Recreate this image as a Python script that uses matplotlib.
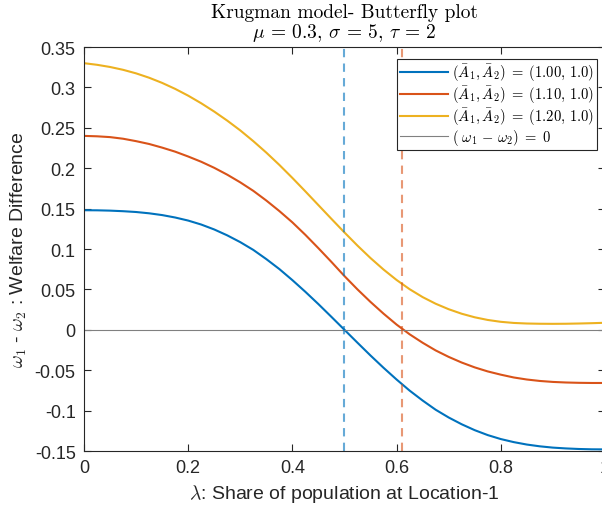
import matplotlib
matplotlib.use("Agg")
import matplotlib.pyplot as plt

# population share at location 1
lam = [0.0, 0.025, 0.05, 0.075, 0.1, 0.125, 0.15, 0.175, 0.2, 0.225,
       0.25, 0.275, 0.3, 0.325, 0.35, 0.375, 0.4, 0.425, 0.45, 0.475,
       0.5, 0.525, 0.55, 0.575, 0.6, 0.625, 0.65, 0.675, 0.7, 0.725,
       0.75, 0.775, 0.8, 0.825, 0.85, 0.875, 0.9, 0.925, 0.95, 0.975, 1.0]

# welfare difference w1 - w2 for each productivity pair
dw_100 = [0.1480, 0.1479, 0.1475, 0.1468, 0.1458, 0.1442, 0.1420, 0.1390, 0.1352, 0.1303,
          0.1242, 0.1169, 0.1085, 0.0989, 0.0875, 0.0752, 0.0615, 0.0470, 0.0318, 0.0160,
          0.0,
          -0.0160, -0.0318, -0.0470, -0.0615, -0.0752, -0.0875, -0.0989, -0.1085, -0.1169,
          -0.1242, -0.1303, -0.1352, -0.1390, -0.1420, -0.1442, -0.1458, -0.1468, -0.1475,
          -0.1479, -0.1480]
dw_110 = [0.2400, 0.2395, 0.2385, 0.2365, 0.2335, 0.2300, 0.2255, 0.2205, 0.2145, 0.2080,
          0.2005, 0.1920, 0.1825, 0.1720, 0.1600, 0.1470, 0.1330, 0.1175, 0.1010, 0.0840,
          0.0665, 0.0500, 0.0345, 0.0200, 0.0065, -0.0055, -0.0160, -0.0255, -0.0335, -0.0405,
          -0.0465, -0.0515, -0.0555, -0.0590, -0.0615, -0.0633, -0.0645, -0.0652, -0.0656,
          -0.0658, -0.0658]
dw_120 = [0.3300, 0.3280, 0.3253, 0.3218, 0.3174, 0.3120, 0.3056, 0.2982, 0.2898, 0.2804,
          0.2701, 0.2589, 0.2468, 0.2335, 0.2193, 0.2041, 0.1880, 0.1713, 0.1543, 0.1373,
          0.1205, 0.1042, 0.0888, 0.0746, 0.0617, 0.0503, 0.0405, 0.0323, 0.0255, 0.0199,
          0.0155, 0.0122, 0.0099, 0.0085, 0.0078, 0.0075, 0.0074, 0.0075, 0.0078, 0.0082,
          0.0087]

series_labels = [r"$(\bar{A}_1, \bar{A}_2)\;=\;(1.00,\, 1.0)$",
                 r"$(\bar{A}_1, \bar{A}_2)\;=\;(1.10,\, 1.0)$",
                 r"$(\bar{A}_1, \bar{A}_2)\;=\;(1.20,\, 1.0)$"]
zero_label = r"$(\ \omega_1\,-\,\omega_2)\;=\;0$"

# equilibrium shares where the difference crosses zero
lam_eq_100 = 0.5
lam_eq_110 = 0.61

xticks = [0, 0.2, 0.4, 0.6, 0.8, 1.0]
xtick_labels = ["0", "0.2", "0.4", "0.6", "0.8", "1"]
yticks = [-0.15, -0.1, -0.05, 0, 0.05, 0.1, 0.15, 0.2, 0.25, 0.3, 0.35]
ytick_labels = ["-0.15", "-0.1", "-0.05", "0", "0.05", "0.1", "0.15", "0.2", "0.25", "0.3", "0.35"]

plt.rcParams["font.family"] = ["Liberation Sans", "DejaVu Sans"]
plt.rcParams["mathtext.fontset"] = "cm"

blue = "#0072BD"
orange = "#D95319"
yellow = "#EDB120"
axis_col = "#262626"

fig = plt.figure(figsize=(6.02, 5.06), dpi=100)
ax = fig.add_axes([0.1395, 0.1067, 0.8654, 0.7984])

ax.plot(lam, dw_100, color=blue, lw=1.5, label=series_labels[0])
ax.plot(lam, dw_110, color=orange, lw=1.5, label=series_labels[1])
ax.plot(lam, dw_120, color=yellow, lw=1.5, label=series_labels[2])
ax.axhline(0, color="#808080", lw=0.8, label=zero_label)

ax.axvline(lam_eq_100, color=blue, lw=1.5, ls=(0, (4, 3)), alpha=0.6)
ax.axvline(lam_eq_110, color=orange, lw=1.5, ls=(0, (4, 3)), alpha=0.6)

ax.set_xlim(0, 1)
ax.set_ylim(-0.15, 0.35)
ax.set_xticks(xticks)
ax.set_xticklabels(xtick_labels)
ax.set_yticks(yticks)
ax.set_yticklabels(ytick_labels)
ax.tick_params(direction="in", top=True, right=True, length=5, width=0.8,
               labelsize=13, colors=axis_col, pad=6)
for sp in ax.spines.values():
    sp.set_color(axis_col)
    sp.set_linewidth(0.8)

ax.set_xlabel(r"$\lambda$: Share of population at Location-1", fontsize=14, color=axis_col)
ax.set_ylabel(r"$\omega_1$ - $\omega_2$ : Welfare Difference", fontsize=14, color=axis_col)

ax.set_title("Krugman model- Butterfly plot\n" + r"$\mu$ = 0.3, $\sigma$ = 5, $\tau$ = 2",
             fontsize=14, family="cmr10", color="black", pad=7, linespacing=1.0)

leg = ax.legend(loc="upper right", bbox_to_anchor=(0.985, 0.97), fontsize=10.5,
                handlelength=3.3, frameon=True, fancybox=False, framealpha=1,
                borderpad=0.2, labelspacing=0.02, handletextpad=0.3, borderaxespad=0)
leg.get_frame().set_edgecolor(axis_col)
leg.get_frame().set_linewidth(0.8)

fig.savefig("out.png", dpi=100)
